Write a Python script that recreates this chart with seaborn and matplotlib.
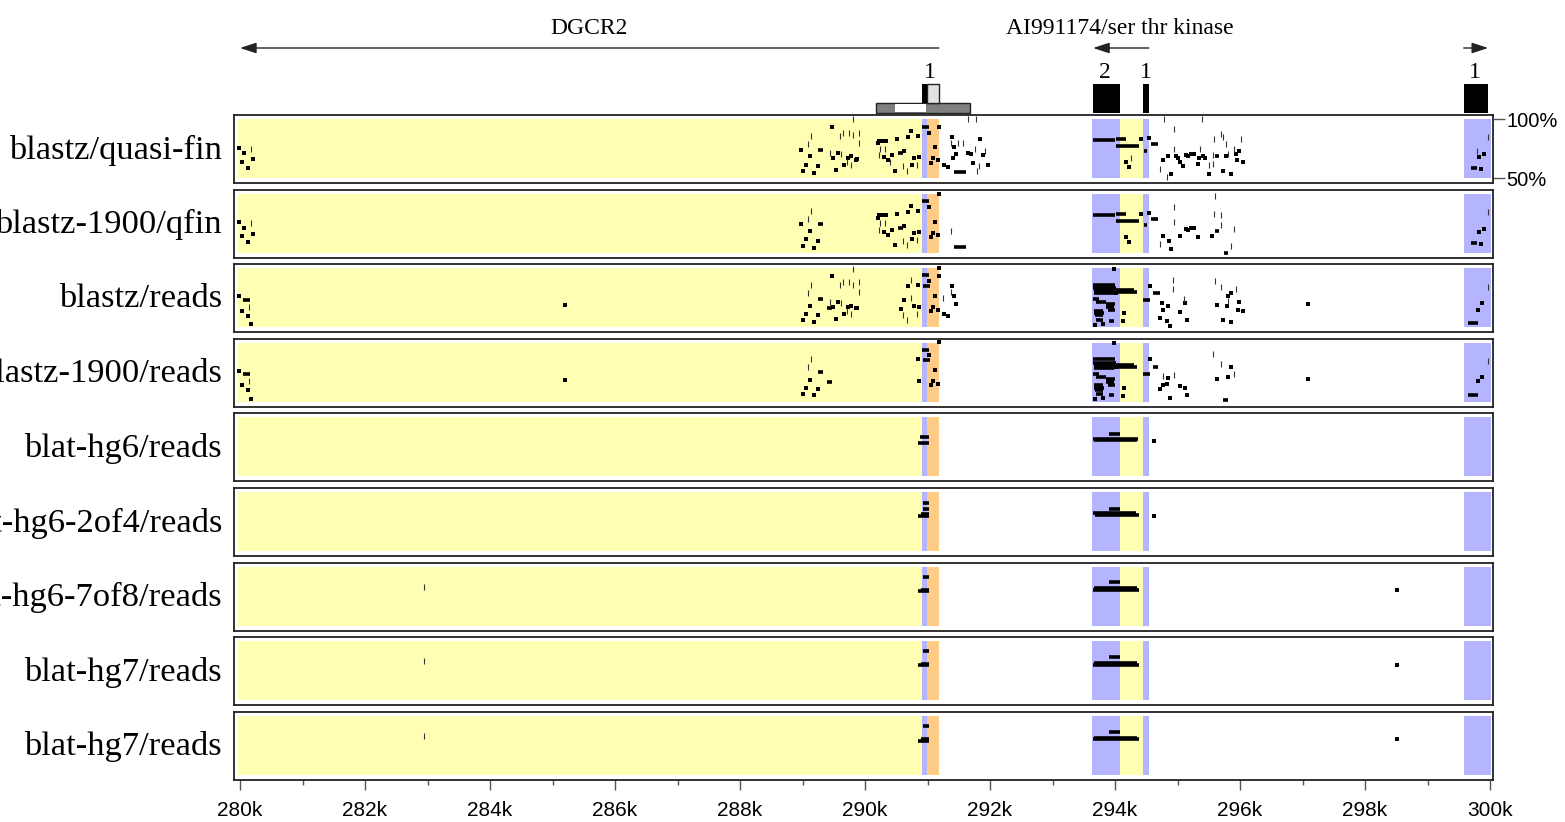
import matplotlib
matplotlib.use("Agg")
import matplotlib.pyplot as plt
import pandas as pd
import seaborn as sns

track_names = ["blastz/quasi-fin", "blastz-1900/qfin", "blastz/reads", "blastz-1900/reads",
               "blat-hg6/reads", "blat-hg6-2of4/reads", "blat-hg6-7of8/reads",
               "blat-hg7/reads", "blat-hg7/reads"]

# shaded regions (kb)
yellow_spans = [(279.96, 290.91), (294.08, 294.45)]
blue_spans = [(290.91, 290.99), (293.63, 294.08), (294.45, 294.55), (299.58, 300.02)]
orange_spans = [(290.99, 291.19)]

x_ticks = list(range(280, 301, 2))
x_minor = list(range(281, 300, 2))
x_tick_labels = [f"{v}k" for v in x_ticks]

# gene annotation
gene_names = ["DGCR2", "AI991174/ser thr kinase"]
gene_label_x = [285.58, 294.08]
gene_arrows = [(291.18, 280.0), (294.54, 293.65), (299.58, 299.97)]  # (tail, head)
exon_spans = [(293.65, 294.08), (294.45, 294.54), (299.58, 299.97)]
exon_labels = ["2", "1", "1"]
exon_label_x = [293.84, 294.50, 299.76]
exon1_coding = (290.91, 290.99)
exon1_utr = (290.99, 291.18)
exon1_label_x = 291.04
cpg_bar = (290.18, 291.68)
cpg_gap = (290.48, 290.97)

# panel 1: blastz/quasi-fin   (kb, percent identity)
p1_dots = [(279.99, 75.7), (280.07, 70.9), (280.03, 63.8), (280.12, 58.7), (280.20, 65.8),
           (288.97, 74.0), (289.12, 68.4), (289.05, 61.3), (289.00, 55.7), (289.19, 54.2),
           (289.24, 60.2), (289.49, 67.0), (289.56, 71.2), (289.67, 61.3), (289.73, 67.2),
           (289.78, 68.4), (289.85, 65.5), (289.87, 66.4), (289.54, 57.0), (289.47, 93.5),
           (290.23, 81.6), (290.27, 81.6), (290.34, 81.6), (290.20, 79.7), (290.51, 82.8),
           (290.68, 84.5), (290.84, 85.6), (290.73, 89.6), (290.63, 72.6), (290.43, 69.2),
           (290.30, 67.5), (290.37, 65.0), (290.48, 56.2), (290.79, 67.0), (290.75, 61.3),
           (290.87, 67.5), (291.03, 88.4), (291.12, 76.0), (291.16, 65.0), (291.08, 67.0),
           (291.06, 63.0), (291.19, 93.5), (291.39, 84.5), (291.42, 76.0), (291.46, 70.1),
           (291.41, 67.2), (291.64, 71.4), (291.69, 70.1), (291.73, 63.0), (291.84, 82.8),
           (291.88, 69.2), (291.96, 61.3), (291.27, 60.8), (291.32, 59.3),
           (294.41, 83.1), (294.54, 83.9), (294.18, 63.6), (294.22, 59.3),
           (294.77, 65.3), (294.85, 68.4), (294.98, 68.4), (295.01, 67.2), (295.04, 63.6),
           (295.09, 60.2), (295.14, 69.7), (295.16, 68.9), (295.22, 70.6), (295.27, 70.6),
           (295.35, 67.2), (295.40, 68.4), (295.44, 67.2), (295.98, 73.1), (295.94, 70.6),
           (296.04, 63.3), (295.95, 65.0), (295.78, 68.4), (294.89, 53.4), (295.86, 53.4),
           (295.51, 53.4), (295.33, 62.1), (295.73, 56.2),
           (299.82, 67.5), (299.91, 70.3), (299.85, 57.4)]
p1_ticks = [(280.17, 74.8), (289.60, 85.6), (289.64, 87.9), (289.75, 87.9), (289.81, 86.2),
            (289.90, 87.9), (289.91, 79.7), (289.14, 85.6), (289.09, 78.8), (289.44, 71.4),
            (289.62, 70.6), (289.71, 63.6), (289.77, 60.8), (289.81, 99.7), (290.22, 69.2),
            (290.40, 63.6), (290.60, 60.2), (290.67, 56.2), (290.83, 60.8), (290.24, 74.8),
            (290.32, 74.8), (291.37, 79.7), (291.57, 79.7), (291.48, 79.7), (291.76, 74.8),
            (291.92, 73.1), (291.82, 60.2), (291.79, 56.2), (291.65, 99.7), (291.78, 99.7),
            (294.26, 67.2), (294.95, 91.3), (294.79, 99.7), (295.39, 99.7), (295.70, 87.3),
            (295.59, 82.8), (295.77, 78.6), (295.90, 74.8), (296.02, 82.8), (294.94, 74.8),
            (295.36, 74.8), (295.56, 69.2), (295.57, 62.1), (295.50, 60.8), (294.83, 50.8),
            (295.73, 84.5), (295.80, 70.6), (299.96, 84.5), (299.79, 73.1), (294.72, 57.4)]
p1_bars = [(289.25, 289.33, 74.0), (290.52, 290.60, 70.9), (290.91, 291.02, 93.5),
           (291.43, 291.61, 55.1), (293.65, 294.00, 81.9), (294.01, 294.17, 83.1),
           (294.01, 294.39, 76.9), (294.47, 294.51, 73.1), (294.58, 294.69, 78.6),
           (295.60, 295.67, 68.4), (299.69, 299.79, 58.2)]

# panel 2: blastz-1900/qfin
p2_dots = [(279.99, 75.7), (280.07, 70.9), (280.03, 63.8), (280.12, 58.7), (280.20, 65.8),
           (288.97, 74.0), (289.12, 68.4), (289.05, 61.3), (289.00, 55.7), (289.19, 54.2),
           (289.24, 60.2),
           (290.23, 81.6), (290.27, 81.6), (290.34, 81.6), (290.20, 79.7), (290.51, 82.8),
           (290.68, 84.5), (290.84, 85.6), (290.73, 89.6), (290.63, 72.6), (290.43, 69.2),
           (290.30, 67.5), (290.37, 65.0), (290.48, 56.2), (290.79, 67.0), (290.75, 61.3),
           (290.87, 67.5), (291.03, 88.4), (291.12, 76.0), (291.16, 65.0), (291.08, 67.0),
           (291.06, 63.0), (291.19, 99.5),
           (294.41, 83.1), (294.54, 83.9), (294.18, 63.6), (294.22, 59.3),
           (294.77, 64.5), (295.04, 64.0), (295.14, 69.7), (295.16, 68.9), (295.22, 70.6),
           (295.27, 70.6), (295.33, 63.0), (294.89, 52.8), (294.87, 60.0), (295.55, 64.0),
           (299.82, 67.5), (299.91, 70.3), (299.85, 57.4)]
p2_ticks = [(280.17, 74.8), (289.14, 85.6), (289.09, 78.8), (290.22, 69.2), (290.60, 60.2),
            (290.67, 56.2), (290.83, 60.8), (290.24, 74.8), (290.32, 74.8), (291.37, 68.0),
            (294.95, 89.0), (294.94, 76.0), (295.59, 82.8), (295.70, 82.0), (295.70, 73.0),
            (295.90, 70.0), (294.72, 57.4), (295.86, 56.0), (295.60, 98.0), (299.96, 84.5)]
p2_bars = [(289.25, 289.33, 74.0), (290.52, 290.60, 70.9), (290.91, 291.02, 93.5),
           (291.43, 291.61, 55.1), (293.65, 294.00, 81.9), (294.01, 294.17, 83.1),
           (294.01, 294.39, 76.9), (294.47, 294.51, 73.1), (294.58, 294.69, 78.6),
           (295.60, 295.67, 68.4), (295.75, 295.80, 49.5), (299.69, 299.79, 58.2)]

# panel 3: blastz/reads
p3_dots = [(279.99, 76.1), (280.03, 64.1), (280.12, 59.6), (280.17, 52.5), (285.20, 68.6),
           (289.12, 68.4), (289.05, 61.3), (289.00, 56.5), (289.19, 54.5), (289.24, 60.2),
           (289.49, 67.3), (289.56, 71.5), (289.67, 61.5), (289.73, 67.5), (289.78, 68.4),
           (289.85, 66.0), (289.87, 66.4), (289.54, 57.2), (289.47, 93.7),
           (290.63, 73.1), (290.57, 65.5), (290.68, 85.3), (290.84, 86.2), (290.79, 67.8),
           (290.87, 67.5), (291.03, 89.0), (291.12, 76.6), (291.16, 65.0), (291.08, 67.0),
           (291.06, 63.6), (291.19, 100.0), (291.19, 93.7), (291.39, 85.3), (291.42, 76.6),
           (291.46, 70.1), (291.27, 60.8), (291.32, 59.3),
           (293.98, 99.5), (294.02, 79.1), (294.15, 62.1), (294.13, 55.0), (294.56, 85.3),
           (294.75, 70.6), (294.85, 67.8), (294.77, 64.9), (294.72, 57.9), (294.83, 55.0),
           (295.04, 62.7), (295.12, 70.6), (295.15, 55.9), (294.88, 51.4), (295.63, 69.2),
           (295.85, 79.1), (295.81, 76.5), (295.79, 67.8), (295.99, 71.2), (296.04, 63.5),
           (295.96, 64.9), (295.86, 54.2), (295.73, 56.5), (293.68, 52.0), (293.80, 53.0),
           (297.09, 69.5), (299.87, 70.7), (299.81, 64.7)]
p3_ticks = [(280.15, 67.5), (289.60, 85.6), (289.64, 87.9), (289.75, 87.9), (289.81, 86.2),
            (289.90, 87.9), (289.91, 79.7), (289.14, 85.6), (289.09, 78.8), (289.44, 71.4),
            (289.62, 70.6), (289.71, 63.6), (289.77, 60.8), (289.81, 99.7), (290.73, 89.6),
            (290.74, 75.0), (290.67, 56.2), (290.60, 60.2), (290.83, 60.8), (291.37, 80.0),
            (291.25, 75.0), (294.93, 90.0), (294.92, 82.0), (295.60, 89.0), (295.70, 84.0),
            (295.80, 72.0), (295.93, 82.5), (295.10, 74.0), (299.97, 84.4)]
p3_bars = [(280.04, 280.16, 73.2), (289.25, 289.33, 74.0), (289.39, 289.47, 66.7),
           (290.91, 291.02, 94.1), (290.93, 291.04, 85.3),
           (293.65, 294.00, 86.0), (293.65, 294.02, 83.0), (293.67, 294.00, 81.0),
           (293.66, 293.98, 79.0), (294.00, 294.35, 79.5), (294.02, 294.30, 81.5),
           (293.66, 293.80, 64.0), (293.66, 293.82, 62.0), (293.68, 293.80, 60.0),
           (293.85, 294.00, 69.5), (293.86, 293.98, 67.0), (293.88, 294.00, 64.5),
           (293.70, 293.80, 56.5), (293.90, 293.98, 55.5), (293.65, 293.75, 74.0),
           (293.70, 293.85, 71.0), (294.45, 294.56, 73.4), (294.61, 294.72, 79.1),
           (299.65, 299.81, 53.6)]

# panel 4: blastz-1900/reads
p4_dots = [(279.99, 76.0), (280.03, 64.5), (280.12, 60.0), (280.17, 52.5), (285.20, 68.6),
           (289.12, 68.9), (289.05, 62.1), (289.24, 61.0), (289.00, 57.0), (289.19, 55.6),
           (290.84, 86.4), (290.87, 67.8), (291.03, 89.6), (291.12, 77.1), (291.16, 65.0),
           (291.08, 67.8), (291.06, 64.1), (291.19, 100.7),
           (293.98, 99.5), (294.02, 79.1), (294.15, 62.1), (294.13, 55.0), (294.56, 86.2),
           (294.85, 70.0), (294.77, 64.0), (294.72, 61.2), (294.83, 65.0), (295.04, 63.5),
           (295.12, 62.0), (295.15, 55.9), (294.88, 53.6), (295.63, 69.2), (295.85, 79.1),
           (295.81, 70.8), (293.68, 52.0), (293.80, 53.0),
           (297.09, 69.5), (299.87, 71.3), (299.81, 67.9)]
p4_ticks = [(280.15, 67.5), (289.14, 86.2), (289.09, 79.7), (294.76, 72.0), (294.95, 73.0),
            (295.56, 90.5), (295.70, 82.0), (295.90, 74.0), (299.97, 85.0)]
p4_bars = [(280.04, 280.16, 73.2), (289.25, 289.33, 75.0), (289.39, 289.47, 66.9),
           (290.91, 291.02, 94.1), (290.93, 291.04, 85.6),
           (293.65, 294.00, 86.0), (293.65, 294.02, 83.0), (293.67, 294.00, 81.0),
           (293.66, 293.98, 79.0), (294.00, 294.35, 79.5), (294.02, 294.30, 81.5),
           (293.66, 293.80, 64.0), (293.66, 293.82, 62.0), (293.68, 293.80, 60.0),
           (293.85, 294.00, 69.5), (293.86, 293.98, 67.0), (293.88, 294.00, 64.5),
           (293.70, 293.80, 56.5), (293.90, 293.98, 55.5), (293.65, 293.75, 74.0),
           (293.70, 293.85, 71.0), (294.45, 294.56, 73.4), (294.60, 294.69, 79.1),
           (295.73, 295.81, 51.4), (299.65, 299.81, 55.9)]

# panels 5-9: blat tracks
p5_dots = [(294.63, 79.7)]
p5_ticks = []
p5_bars = [(290.88, 291.02, 83.5), (290.85, 291.03, 78.6), (293.91, 294.08, 86.0),
           (293.65, 294.36, 81.4), (293.67, 294.35, 80.6)]
p6_dots = [(294.63, 80.0)]
p6_ticks = []
p6_bars = [(290.92, 291.03, 90.6), (290.92, 291.02, 85.7), (290.90, 291.02, 81.5),
           (290.85, 291.03, 80.0), (293.91, 294.08, 86.0), (293.65, 294.33, 82.0),
           (293.68, 294.38, 80.5)]
p7_dots = [(298.51, 80.0)]
p7_ticks = [(282.94, 83.0)]
p7_bars = [(290.92, 291.03, 90.9), (290.90, 291.02, 80.5), (290.85, 291.03, 79.1),
           (293.91, 294.08, 86.7), (293.67, 294.35, 81.5), (293.65, 294.38, 80.2)]
p8_dots = [(298.51, 80.0)]
p8_ticks = [(282.94, 83.0)]
p8_bars = [(290.92, 291.03, 91.5), (290.90, 291.02, 80.8), (290.85, 291.03, 79.5),
           (293.91, 294.08, 86.7), (293.67, 294.35, 81.5), (293.65, 294.38, 80.2)]
p9_dots = [(298.51, 80.0)]
p9_ticks = [(282.94, 83.0)]
p9_bars = [(290.92, 291.03, 91.5), (290.90, 291.02, 80.0), (290.85, 291.03, 78.6),
           (293.91, 294.08, 86.7), (293.67, 294.35, 81.5), (293.65, 294.38, 80.2)]

panel_dots = [p1_dots, p2_dots, p3_dots, p4_dots, p5_dots, p6_dots, p7_dots, p8_dots, p9_dots]
panel_ticks = [p1_ticks, p2_ticks, p3_ticks, p4_ticks, p5_ticks, p6_ticks, p7_ticks, p8_ticks, p9_ticks]
panel_bars = [p1_bars, p2_bars, p3_bars, p4_bars, p5_bars, p6_bars, p7_bars, p8_bars, p9_bars]

YELLOW, BLUE, ORANGE = "#ffffb4", "#b4b4ff", "#ffcc88"
SERIF = ["Liberation Serif", "DejaVu Serif"]
SANS = ["Liberation Sans", "DejaVu Sans"]

sns.set_theme(style="white")
plt.rcParams["font.family"] = SANS
plt.rcParams["text.color"] = "black"
plt.rcParams["xtick.labelcolor"] = "black"
plt.rcParams["ytick.labelcolor"] = "black"

W, H = 1565, 822
fig = plt.figure(figsize=(W / 100, H / 100), dpi=100)
XLIM = (279.904, 300.048)


def box(l, t, r, b):
    return [l / W, 1 - b / H, (r - l) / W, (b - t) / H]


# ---- gene annotation strip
ax_top = fig.add_axes(box(234, 0, 1493, 114))
ax_top.set_xlim(XLIM)
ax_top.set_ylim(0, 114)
ax_top.axis("off")
for name, gx in zip(gene_names, gene_label_x):
    ax_top.text(gx, 86, name, ha="center", va="center", family=SERIF, fontsize=17)
for tail, head in gene_arrows:
    ax_top.annotate("", xy=(head, 66), xytext=(tail, 66),
                    arrowprops=dict(arrowstyle="-|>,head_length=0.55,head_width=0.18",
                                    mutation_scale=18, color="#222222", lw=1,
                                    shrinkA=0, shrinkB=0))
for (x0, x1), lab, lx in zip(exon_spans, exon_labels, exon_label_x):
    ax_top.bar(x=x0, height=29, width=x1 - x0, bottom=1, align="edge", color="black", lw=0)
    ax_top.text(lx, 41, lab, ha="center", va="center", family=SERIF, fontsize=17)
ax_top.bar(x=cpg_bar[0], height=10, width=cpg_bar[1] - cpg_bar[0], bottom=1, align="edge",
           color="#808080", edgecolor="#222222", lw=1)
ax_top.bar(x=cpg_gap[0], height=8, width=cpg_gap[1] - cpg_gap[0], bottom=2, align="edge",
           color="white", lw=0)
ax_top.bar(x=exon1_utr[0], height=19, width=exon1_utr[1] - exon1_utr[0], bottom=11,
           align="edge", color="#e2e2e2", edgecolor="#222222", lw=1)
ax_top.bar(x=exon1_coding[0], height=19, width=exon1_coding[1] - exon1_coding[0], bottom=11,
           align="edge", color="black", lw=0)
ax_top.text(exon1_label_x, 41, "1", ha="center", va="center", family=SERIF, fontsize=17)

# ---- percent identity panels
for i, name in enumerate(track_names):
    top = 115 + 74.6 * i
    ax = fig.add_axes(box(234, top, 1493, top + 68))
    ax.set_xlim(XLIM)
    ax.set_ylim(45.8, 103.4)
    for spans, col in [(yellow_spans, YELLOW), (blue_spans, BLUE), (orange_spans, ORANGE)]:
        for x0, x1 in spans:
            ax.fill_between([x0, x1], 50, 100, color=col, lw=0, zorder=0)

    dots = pd.DataFrame(panel_dots[i], columns=["kb", "pct"])
    if len(dots):
        sns.scatterplot(data=dots, x="kb", y="pct", ax=ax, marker="s", s=7,
                        color="black", linewidth=0, legend=False, zorder=3)
    if panel_ticks[i]:
        tk = pd.DataFrame(panel_ticks[i], columns=["kb", "pct"])
        ax.scatter(tk["kb"], tk["pct"], marker="|", s=16, linewidths=0.8,
                   color="#333333", zorder=3)
    if panel_bars[i]:
        bars = pd.DataFrame(panel_bars[i], columns=["x0", "x1", "pct"])
        ax.hlines(bars["pct"], bars["x0"], bars["x1"], color="black", lw=2.6, zorder=3)

    for sp in ax.spines.values():
        sp.set_visible(True)
        sp.set_color("#222222")
        sp.set_linewidth(1.3)
    ax.set_xlabel("")
    ax.set_ylabel("")
    ax.set_yticks([])
    ax.set_xticks([])
    fig.text(222 / W, 1 - (top + 35) / H, name, ha="right", va="center",
             family=SERIF, fontsize=24.8, color="black")

    if i == 0:
        ax.yaxis.tick_right()
        ax.set_yticks([50, 100])
        ax.set_yticklabels(["50%", "100%"])
        ax.tick_params(axis="y", which="major", right=True, length=8.6, width=1,
                       color="#555555", pad=1, labelsize=14.5)
    if i == len(track_names) - 1:
        ax.set_xticks(x_ticks)
        ax.set_xticklabels(x_tick_labels)
        ax.set_xticks(x_minor, minor=True)
        ax.tick_params(axis="x", which="major", bottom=True, length=7, width=1,
                       color="#555555", pad=8, labelsize=15)
        ax.tick_params(axis="x", which="minor", bottom=True, length=3.5, width=1,
                       color="#555555")

fig.savefig("out.png", dpi=100)
